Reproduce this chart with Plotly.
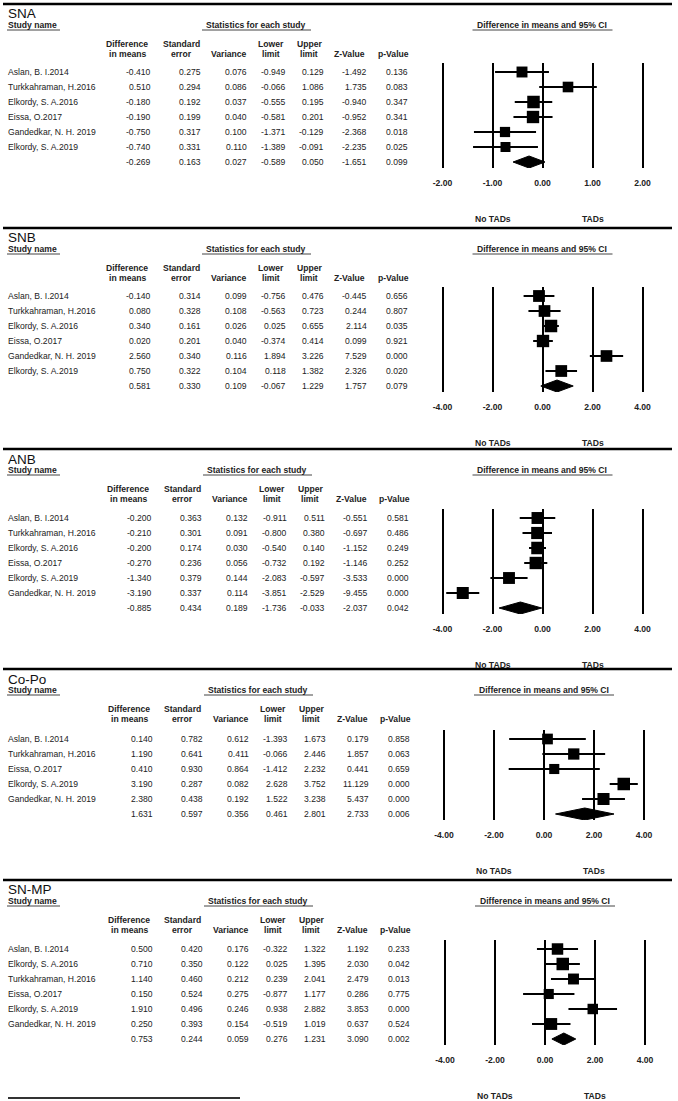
import plotly.graph_objects as go

W, H = 678, 1101

# ---------------- data (last entry of each list = overall / summary row) ----------------
SNA_study = ["Aslan, B. I.2014", "Turkkahraman, H.2016", "Elkordy, S. A.2016", "Eissa, O.2017",
             "Gandedkar, N. H. 2019", "Elkordy, S. A.2019", ""]
SNA_diff = [-0.410, 0.510, -0.180, -0.190, -0.750, -0.740, -0.269]
SNA_se = [0.275, 0.294, 0.192, 0.199, 0.317, 0.331, 0.163]
SNA_var = [0.076, 0.086, 0.037, 0.040, 0.100, 0.110, 0.027]
SNA_lower = [-0.949, -0.066, -0.555, -0.581, -1.371, -1.389, -0.589]
SNA_upper = [0.129, 1.086, 0.195, 0.201, -0.129, -0.091, 0.050]
SNA_z = [-1.492, 1.735, -0.940, -0.952, -2.368, -2.235, -1.651]
SNA_p = [0.136, 0.083, 0.347, 0.341, 0.018, 0.025, 0.099]

SNB_study = ["Aslan, B. I.2014", "Turkkahraman, H.2016", "Elkordy, S. A.2016", "Eissa, O.2017",
             "Gandedkar, N. H. 2019", "Elkordy, S. A.2019", ""]
SNB_diff = [-0.140, 0.080, 0.340, 0.020, 2.560, 0.750, 0.581]
SNB_se = [0.314, 0.328, 0.161, 0.201, 0.340, 0.322, 0.330]
SNB_var = [0.099, 0.108, 0.026, 0.040, 0.116, 0.104, 0.109]
SNB_lower = [-0.756, -0.563, 0.025, -0.374, 1.894, 0.118, -0.067]
SNB_upper = [0.476, 0.723, 0.655, 0.414, 3.226, 1.382, 1.229]
SNB_z = [-0.445, 0.244, 2.114, 0.099, 7.529, 2.326, 1.757]
SNB_p = [0.656, 0.807, 0.035, 0.921, 0.000, 0.020, 0.079]

ANB_study = ["Aslan, B. I.2014", "Turkkahraman, H.2016", "Elkordy, S. A.2016", "Eissa, O.2017",
             "Elkordy, S. A.2019", "Gandedkar, N. H. 2019", ""]
ANB_diff = [-0.200, -0.210, -0.200, -0.270, -1.340, -3.190, -0.885]
ANB_se = [0.363, 0.301, 0.174, 0.236, 0.379, 0.337, 0.434]
ANB_var = [0.132, 0.091, 0.030, 0.056, 0.144, 0.114, 0.189]
ANB_lower = [-0.911, -0.800, -0.540, -0.732, -2.083, -3.851, -1.736]
ANB_upper = [0.511, 0.380, 0.140, 0.192, -0.597, -2.529, -0.033]
ANB_z = [-0.551, -0.697, -1.152, -1.146, -3.533, -9.455, -2.037]
ANB_p = [0.581, 0.486, 0.249, 0.252, 0.000, 0.000, 0.042]

COPO_study = ["Aslan, B. I.2014", "Turkkahraman, H.2016", "Eissa, O.2017", "Elkordy, S. A.2019",
              "Gandedkar, N. H. 2019", ""]
COPO_diff = [0.140, 1.190, 0.410, 3.190, 2.380, 1.631]
COPO_se = [0.782, 0.641, 0.930, 0.287, 0.438, 0.597]
COPO_var = [0.612, 0.411, 0.864, 0.082, 0.192, 0.356]
COPO_lower = [-1.393, -0.066, -1.412, 2.628, 1.522, 0.461]
COPO_upper = [1.673, 2.446, 2.232, 3.752, 3.238, 2.801]
COPO_z = [0.179, 1.857, 0.441, 11.129, 5.437, 2.733]
COPO_p = [0.858, 0.063, 0.659, 0.000, 0.000, 0.006]

SNMP_study = ["Aslan, B. I.2014", "Elkordy, S. A.2016", "Turkkahraman, H.2016", "Eissa, O.2017",
              "Elkordy, S. A.2019", "Gandedkar, N. H. 2019", ""]
SNMP_diff = [0.500, 0.710, 1.140, 0.150, 1.910, 0.250, 0.753]
SNMP_se = [0.420, 0.350, 0.460, 0.524, 0.496, 0.393, 0.244]
SNMP_var = [0.176, 0.122, 0.212, 0.275, 0.246, 0.154, 0.059]
SNMP_lower = [-0.322, 0.025, 0.239, -0.877, 0.938, -0.519, 0.276]
SNMP_upper = [1.322, 1.395, 2.041, 1.177, 2.882, 1.019, 1.231]
SNMP_z = [1.192, 2.030, 2.479, 0.286, 3.853, 0.637, 3.090]
SNMP_p = [0.233, 0.042, 0.013, 0.775, 0.000, 0.524, 0.002]

TICKS_NARROW = [-2, -1, 0, 1, 2]
TICKS_WIDE = [-4, -2, 0, 2, 4]

HDR1 = ["Difference", "Standard", "", "Lower", "Upper", "", ""]
HDR2 = ["in means", "error", "Variance", "limit", "limit", "Z-Value", "p-Value"]
LEFT_LABEL, RIGHT_LABEL = "No TADs", "TADs"

# ---------------- layout constants ----------------
FONT = "Liberation Sans, Arial, sans-serif"
FS = 8.6
TXT = "#222222"
ROWH = 15
COL_RIGHT = [152, 202, 248, 287, 325, 368, 409]
HDR_X = [127, 181, 229, 271, 309, 350, 393]
BOXMAX = 12.5

PANELS = [
    dict(title="SNA", cols=(SNA_study, SNA_diff, SNA_se, SNA_var, SNA_lower, SNA_upper, SNA_z, SNA_p),
         ticks=TICKS_NARROW, top=4, row0=72, dx=0, zero=542.5),
    dict(title="SNB", cols=(SNB_study, SNB_diff, SNB_se, SNB_var, SNB_lower, SNB_upper, SNB_z, SNB_p),
         ticks=TICKS_WIDE, top=228, row0=296, dx=0, zero=542.5),
    dict(title="ANB", cols=(ANB_study, ANB_diff, ANB_se, ANB_var, ANB_lower, ANB_upper, ANB_z, ANB_p),
         ticks=TICKS_WIDE, top=449, row0=518, dx=1, zero=542.5),
    dict(title="Co-Po", cols=(COPO_study, COPO_diff, COPO_se, COPO_var, COPO_lower, COPO_upper, COPO_z, COPO_p),
         ticks=TICKS_WIDE, top=669, row0=739, dx=2, zero=544),
    dict(title="SN-MP", cols=(SNMP_study, SNMP_diff, SNMP_se, SNMP_var, SNMP_lower, SNMP_upper, SNMP_z, SNMP_p),
         ticks=TICKS_WIDE, top=880, row0=949, dx=2, zero=545),
]


def py(p):
    return 1 - p / H


def px(p):
    return p / W


def re_weights(y, v):
    """DerSimonian-Laird random-effects weights."""
    w = [1 / vi for vi in v]
    sw = sum(w)
    ybar = sum(wi * yi for wi, yi in zip(w, y)) / sw
    q = sum(wi * (yi - ybar) ** 2 for wi, yi in zip(w, y))
    c = sw - sum(wi ** 2 for wi in w) / sw
    tau2 = max(0.0, (q - (len(y) - 1)) / c)
    return [1 / (vi + tau2) for vi in v]


def ann(text, x, y, anchor="left", size=FS, bold=False, xref="paper", yref="paper", color=TXT):
    return dict(text=text, x=x, y=y, xref=xref, yref=yref, xanchor=anchor, yanchor="middle",
                showarrow=False, borderpad=0,
                font=dict(family=FONT, size=size, color=color, weight=700 if bold else 400))


fig = go.Figure()
annotations, shapes = [], []

for i, P in enumerate(PANELS, start=1):
    study, diff, se, var, lower, upper, z, p = P["cols"]
    n = len(study)
    k = n - 1
    T, r0, dx, zero = P["top"], P["row0"], P["dx"], P["zero"]
    ticks = P["ticks"]
    step = ticks[1] - ticks[0]
    ppu = 50 / step  # pixels per data unit
    rlast = r0 + ROWH * (n - 1)
    xa, ya = ("x" if i == 1 else f"x{i}"), ("y" if i == 1 else f"y{i}")
    xkey, ykey = ("xaxis" if i == 1 else f"xaxis{i}"), ("yaxis" if i == 1 else f"yaxis{i}")

    half = 2.2 * step * ppu
    fig.layout[xkey] = dict(
        domain=[px(zero - half), px(zero + half)],
        range=[ticks[0] - 0.2 * step, ticks[-1] + 0.2 * step],
        anchor=ya, showgrid=True, gridcolor="black", gridwidth=2, zeroline=False, showline=False,
        tickvals=ticks, ticktext=[f"{t:.2f}" for t in ticks], ticks="outside", ticklen=7,
        tickcolor="rgba(0,0,0,0)", fixedrange=True,
        tickfont=dict(family=FONT, size=FS, color=TXT, weight=700))
    fig.layout[ykey] = dict(
        domain=[py(rlast + 6), py(r0 - 9)], range=[n - 1 + 0.4, -0.6], anchor=xa,
        showgrid=False, zeroline=False, showline=False, showticklabels=False, ticks="", fixedrange=True)

    # study boxes with CIs
    w = re_weights(diff[:k], var[:k])
    wmax = max(w)
    sizes = [BOXMAX * (wi / wmax) ** 0.5 for wi in w]
    fig.add_trace(go.Scatter(
        x=diff[:k], y=list(range(k)), xaxis=xa, yaxis=ya, mode="markers",
        marker=dict(symbol="square", color="black", size=sizes, opacity=1, line=dict(width=0)),
        error_x=dict(type="data", symmetric=False,
                     array=[u - d for u, d in zip(upper[:k], diff[:k])],
                     arrayminus=[d - l for d, l in zip(diff[:k], lower[:k])],
                     color="black", thickness=2, width=0),
        hoverinfo="skip", cliponaxis=False))
    # summary diamond
    fig.add_trace(go.Scatter(
        x=[lower[k], diff[k], upper[k], diff[k], lower[k]],
        y=[k, k - 0.4, k, k + 0.4, k], xaxis=xa, yaxis=ya, mode="lines",
        fill="toself", fillcolor="black", line=dict(color="black", width=1), hoverinfo="skip"))

    # separator line above the panel
    shapes.append(dict(type="line", xref="paper", yref="paper", x0=px(3), x1=px(672), y0=py(T), y1=py(T),
                       line=dict(color="black", width=2.5)))
    # titles & section headers
    annotations.append(ann(P["title"], px(7), py(T + 10), size=13.5, color="#111111"))
    annotations.append(ann("Study name", px(7), py(T + 21), bold=True))
    annotations.append(ann("Statistics for each study", px(256 + dx), py(T + 21), anchor="center", bold=True))
    annotations.append(ann("Difference in means and 95% CI", px(zero - 0.5), py(T + 21), anchor="center", bold=True))
    for x0, x1 in [(7, 60), (202 + dx, 311 + dx), (zero - 70, zero + 70)]:
        shapes.append(dict(type="line", xref="paper", yref="paper", x0=px(x0), x1=px(x1),
                           y0=py(T + 26), y1=py(T + 26), line=dict(color="#444444", width=1)))
    for h1, h2, hx in zip(HDR1, HDR2, HDR_X):
        if h1:
            annotations.append(ann(h1, px(hx + dx), py(T + 40), anchor="center", bold=True))
        annotations.append(ann(h2, px(hx + dx), py(T + 50), anchor="center", bold=True))

    # table rows
    for r in range(n):
        if study[r]:
            annotations.append(ann(study[r], px(7), r, yref=ya))
        vals = [diff[r], se[r], var[r], lower[r], upper[r], z[r], p[r]]
        for v, cx in zip(vals, COL_RIGHT):
            annotations.append(ann(f"{v:.3f}", px(cx + dx), r, anchor="right", yref=ya))

    # direction labels
    annotations.append(ann(LEFT_LABEL, ticks[1], py(rlast + 57), anchor="center", bold=True, xref=xa))
    annotations.append(ann(RIGHT_LABEL, ticks[3], py(rlast + 57), anchor="center", bold=True, xref=xa))

# short closing rule at the very bottom
shapes.append(dict(type="line", xref="paper", yref="paper", x0=px(8), x1=px(240), y0=py(1098), y1=py(1098),
                   line=dict(color="#333333", width=2)))

fig.update_layout(
    width=W, height=H, margin=dict(l=0, r=0, t=0, b=0), paper_bgcolor="white", plot_bgcolor="white",
    showlegend=False, annotations=annotations, shapes=shapes,
    font=dict(family=FONT, size=FS, color=TXT))

fig.write_html("out.html", config={"displayModeBar": False},
               post_script="document.body.style.margin='0px';")
